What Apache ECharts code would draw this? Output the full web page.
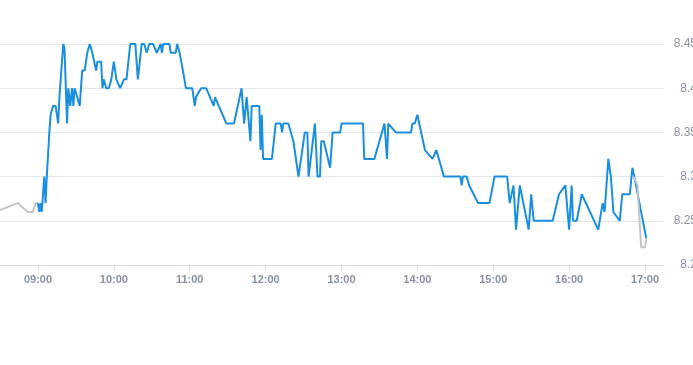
<!DOCTYPE html>
<html>
<head>
<meta charset="utf-8">
<script src="https://cdn.jsdelivr.net/npm/echarts@6/dist/echarts.min.js"></script>
<style>html,body{margin:0;padding:0;background:#fff;}#c{width:693px;height:365px;}</style>
</head>
<body>
<div id="c"></div>
<script>
// Pre-market (grey)
const preTimes  = ['08:30','08:44','08:52','08:56','08:58','09:00'];
const preValues = [8.262, 8.27, 8.26, 8.26, 8.27, 8.27];

// Main session (blue)
const mainTimes = ['09:00','09:01','09:02','09:03','09:05','09:06','09:07','09:09','09:10','09:12','09:14','09:16','09:17','09:18','09:20','09:21','09:23','09:24','09:25.5','09:27','09:28','09:29','09:31','09:33','09:35','09:37','09:39','09:41','09:43','09:46','09:47','09:50','09:51','09:52','09:54','09:56','09:58','10:00','10:02','10:03','10:05','10:06','10:08','10:10','10:13','10:17','10:19','10:22','10:24','10:26','10:28','10:31','10:34','10:35','10:37','10:38','10:39','10:44','10:45','10:49','10:50','10:52','10:54','10:57','11:02','11:04','11:05','11:09','11:13','11:19','11:20','11:29','11:35','11:41','11:43','11:45','11:48','11:49','11:55','11:56','11:57','11:58','12:05','12:08','12:12','12:13','12:14','12:18','12:22','12:26','12:31','12:33','12:34','12:39','12:41','12:43','12:44','12:46','12:51','12:53','12:59','13:00','13:17','13:18','13:26','13:34','13:36','13:37','13:43','13:55','13:56','13:58','14:00','14:06','14:12','14:15','14:21','14:34','14:35','14:36','14:39','14:41','14:48','14:57','15:01','15:11','15:13','15:16','15:18','15:21','15:28','15:30','15:32','15:47','15:52','15:57','16:00','16:02','16:03','16:06','16:10','16:23','16:26.5','16:28','16:29','16:31','16:33','16:34','16:35','16:40','16:41','16:42','16:48','16:50','16:51.5','17:01'];
const mainValues = [8.27,8.26,8.27,8.26,8.30,8.27,8.30,8.35,8.37,8.38,8.38,8.36,8.39,8.39,8.45,8.445,8.36,8.40,8.38,8.40,8.38,8.40,8.39,8.38,8.42,8.42,8.44,8.45,8.44,8.42,8.43,8.43,8.40,8.41,8.40,8.40,8.41,8.43,8.41,8.41,8.40,8.40,8.41,8.41,8.45,8.45,8.41,8.45,8.45,8.44,8.45,8.45,8.44,8.44,8.45,8.44,8.45,8.45,8.44,8.44,8.45,8.44,8.425,8.40,8.40,8.38,8.39,8.40,8.40,8.38,8.39,8.36,8.36,8.40,8.36,8.39,8.34,8.38,8.38,8.33,8.37,8.32,8.32,8.36,8.36,8.35,8.36,8.36,8.34,8.30,8.35,8.35,8.30,8.36,8.30,8.30,8.34,8.34,8.31,8.35,8.35,8.36,8.36,8.32,8.32,8.36,8.32,8.36,8.35,8.35,8.36,8.36,8.37,8.33,8.32,8.33,8.30,8.30,8.29,8.30,8.30,8.29,8.27,8.27,8.30,8.30,8.27,8.29,8.24,8.29,8.24,8.28,8.25,8.25,8.28,8.29,8.24,8.29,8.25,8.25,8.28,8.24,8.27,8.26,8.28,8.32,8.30,8.30,8.26,8.25,8.25,8.28,8.28,8.31,8.30,8.23];

// After-hours (grey)
const postTimes  = ['16:51','16:54','16:57','17:00','17:01'];
const postValues = [8.30, 8.29, 8.22, 8.22, 8.23];

// Axis labels
const hourLabels = ['09:00','10:00','11:00','12:00','13:00','14:00','15:00','16:00','17:00'];
const yTicks = [8.2, 8.25, 8.3, 8.35, 8.4, 8.45];

function toMin(t) { const p = t.split(':'); return (+p[0]) * 60 + (+p[1]); }
function pad(n) { return (n < 10 ? '0' : '') + n; }
function fmt(m) { return pad(Math.floor(m / 60)) + ':' + pad(Math.round(m % 60)); }
function pairs(ts, vs) { return ts.map((t, i) => [toMin(t), vs[i]]); }

const hourVals = hourLabels.map(toMin);

const chart = echarts.init(document.getElementById('c'), null, { renderer: 'canvas' });
chart.setOption({
  animation: false,
  backgroundColor: '#ffffff',
  grid: { left: 0, right: 29, top: 44, bottom: 100, containLabel: false, outerBoundsMode: 'none' },
  xAxis: {
    type: 'value',
    min: toMin('08:30'),
    max: toMin('17:15'),
    axisLine: { show: true, lineStyle: { color: '#d9dee6', width: 1 } },
    axisTick: { show: true, customValues: hourVals, length: 5, lineStyle: { color: '#d9dee6' } },
    axisLabel: {
      customValues: hourVals,
      formatter: v => fmt(v),
      color: '#8792a2',
      fontSize: 11,
      fontWeight: 'bold',
      fontFamily: 'Liberation Sans, Arial, sans-serif',
      margin: 9
    },
    splitLine: { show: false }
  },
  yAxis: {
    type: 'value',
    position: 'right',
    min: 8.2,
    max: 8.45,
    interval: 0.05,
    axisLine: { show: false },
    axisTick: { show: false },
    axisLabel: {
      formatter: v => String(+v.toFixed(2)),
      color: '#8792a2',
      fontSize: 12,
      fontFamily: 'Liberation Sans, Arial, sans-serif',
      align: 'right',
      margin: 33
    },
    splitLine: { show: true, lineStyle: { color: '#e3e7ec', width: 1 } }
  },
  series: [
    {
      type: 'line', data: pairs(preTimes, preValues), showSymbol: false, symbol: 'none',
      lineStyle: { color: '#c3c6c9', width: 2 }, z: 2
    },
    {
      type: 'line', data: pairs(mainTimes, mainValues), showSymbol: false, symbol: 'none',
      lineStyle: { color: '#1a8fe0', width: 2 }, z: 3
    },
    {
      type: 'line', data: pairs(postTimes, postValues), showSymbol: false, symbol: 'none',
      lineStyle: { color: '#c3c6c9', width: 2 }, z: 4
    }
  ]
});
</script>
</body>
</html>
